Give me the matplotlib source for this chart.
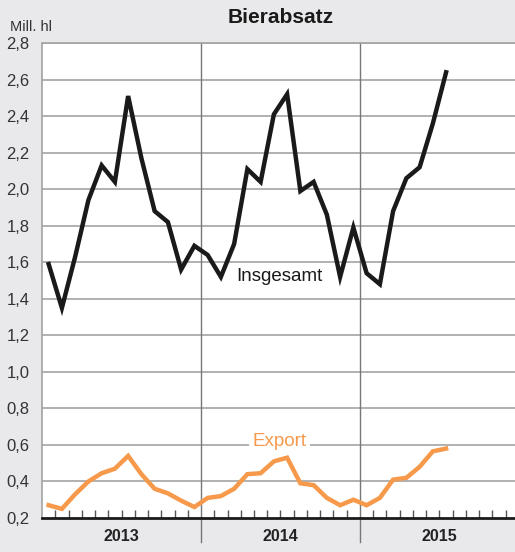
#!/usr/bin/env python3
import matplotlib
matplotlib.use("Agg")
import matplotlib.pyplot as plt
import matplotlib.transforms as mtransforms

plt.rcParams['font.family'] = ['Liberation Sans', 'DejaVu Sans']

# Monatswerte in Mill. hl, Jan 2013 bis Jul 2015
insgesamt = [1.59, 1.35, 1.63, 1.94, 2.13, 2.04, 2.51, 2.17, 1.88, 1.82, 1.56, 1.69,
             1.64, 1.52, 1.70, 2.11, 2.04, 2.41, 2.52, 1.99, 2.04, 1.86, 1.52, 1.79,
             1.54, 1.48, 1.88, 2.06, 2.12, 2.36, 2.64]
export = [0.27, 0.25, 0.33, 0.40, 0.445, 0.47, 0.54, 0.44, 0.36, 0.335, 0.295, 0.26,
          0.31, 0.32, 0.36, 0.44, 0.445, 0.51, 0.53, 0.39, 0.38, 0.31, 0.27, 0.30,
          0.27, 0.31, 0.41, 0.42, 0.48, 0.565, 0.58]
jahre = ["2013", "2014", "2015"]
y_ticks = [0.2, 0.4, 0.6, 0.8, 1.0, 1.2, 1.4, 1.6, 1.8, 2.0, 2.2, 2.4, 2.6, 2.8]

bg = "#e9e9ec"
grau = "#a3a3a3"
orange = "#f7994b"

fig = plt.figure(figsize=(5.15, 5.52), dpi=100, facecolor=bg)
ax = fig.add_axes([0.0816, 0.0616, 1.0 - 0.0816, 0.922 - 0.0616])
ax.set_facecolor("white")

x = [i + 0.5 for i in range(len(insgesamt))]

# Gitter
for y in y_ticks[1:]:
    ax.axhline(y, color=grau, lw=1.2, zorder=1)
for k in range(1, len(jahre)):
    ax.axvline(12 * k, ymin=-0.05, ymax=1, color="#777777", lw=1.0,
               clip_on=False, zorder=1)

ax.plot(x, insgesamt, color="#1a1a1a", lw=3.2, solid_joinstyle="miter", zorder=3)
ax.plot(x, export, color=orange, lw=3.2, solid_joinstyle="miter", zorder=3)

ax.set_xlim(0, 35.7)
ax.set_ylim(0.2, 2.8)

ax.set_yticks(y_ticks)
ax.set_yticklabels([f"{v:.1f}".replace(".", ",") for v in y_ticks],
                   fontsize=12, color="#333333")
ax.tick_params(axis="y", length=0, pad=9)

monate = [m for m in range(1, 36) if m % 12 != 0]
ax.set_xticks(monate)
ax.set_xticklabels([])
ax.tick_params(axis="x", direction="in", length=6, width=1, color="#555555")

for s in ["top", "left"]:
    ax.spines[s].set_color(grau)
    ax.spines[s].set_linewidth(1.2)
ax.spines["right"].set_visible(False)
ax.spines["bottom"].set_color("#1a1a1a")
ax.spines["bottom"].set_linewidth(2)

# Jahresbeschriftung
trans = mtransforms.blended_transform_factory(ax.transData, ax.transAxes)
for k, j in enumerate(jahre):
    ax.text(12 * k + 6, -0.039, j, transform=trans, ha="center", va="center",
            fontsize=11.5, fontweight="bold", color="#222222")

ax.text(17.9, 1.50, "Insgesamt", fontsize=13.5, color="#1a1a1a", ha="center",
        va="baseline", zorder=4)
ax.text(17.95, 0.595, "Export", fontsize=13.5, color=orange, ha="center",
        va="baseline", zorder=4,
        bbox=dict(facecolor="white", edgecolor="none", pad=2.5))

fig.text(0.545, 0.969, "Bierabsatz", fontsize=15, fontweight="bold",
         ha="center", va="center", color="#1a1a1a")
fig.text(0.019, 0.951, "Mill. hl", fontsize=10.5, ha="left", va="center",
         color="#333333")

fig.savefig("out.png", dpi=100, facecolor=bg)
